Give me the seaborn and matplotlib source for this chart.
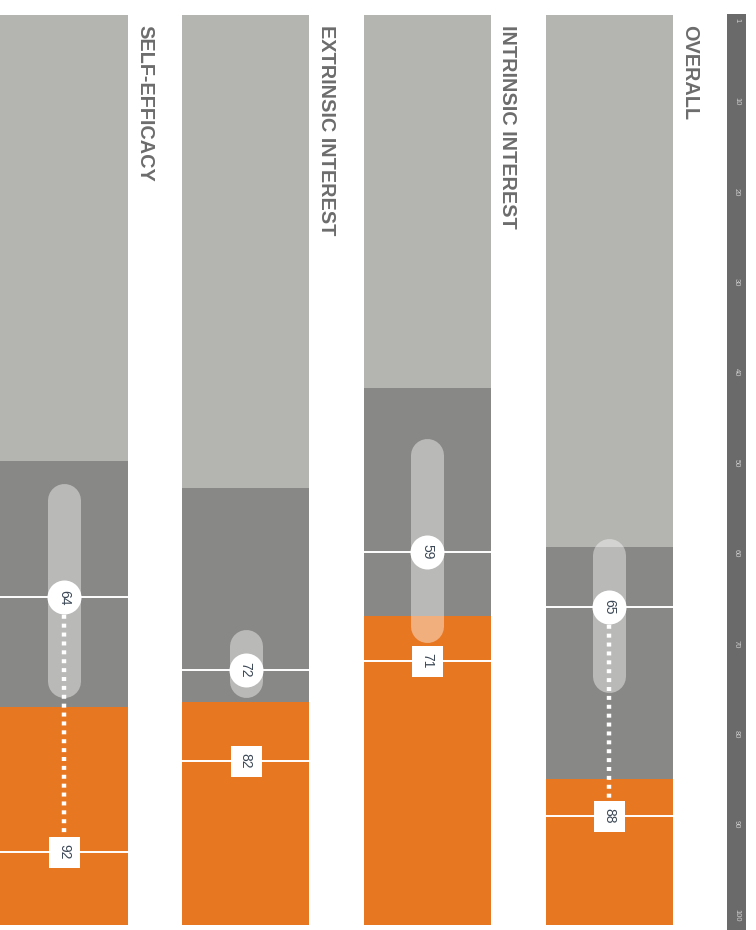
import matplotlib
matplotlib.use("Agg")
import matplotlib.pyplot as plt
import seaborn as sns
import pandas as pd

# Scores per scale (0 at top, 100 at bottom)
categories = ["SELF-EFFICACY", "EXTRINSIC INTEREST", "INTRINSIC INTEREST", "OVERALL"]
low_band_end = [49, 52, 41, 58.5]      # light grey band: 0 .. value
mid_band_end = [76, 75.5, 66, 84]      # dark grey band: low .. value, orange beyond
range_low = [51.5, 67.5, 46.5, 57.5]
range_high = [75, 75, 69, 74.5]
circle_scores = [64, 72, 59, 65]
square_scores = [92, 82, 71, 88]
show_link = [True, False, False, True]
scale_ticks = [1, 10, 20, 30, 40, 50, 60, 70, 80, 90, 100]

LIGHT = "#b4b4b1"
DARK = "#888886"
ORANGE = "#e87722"
TITLE = "#6c6c6c"
NUM = "#3b4756"

sns.set_theme(style="white")
plt.rcParams["font.family"] = ["Liberation Sans", "DejaVu Sans"]

W, H = 756, 930
fig = plt.figure(figsize=(W / 100, H / 100), dpi=100)
ax = fig.add_axes([0, 0, 1, 1])

df = pd.DataFrame({"cat": categories, "full": [100] * 4,
                   "mid": mid_band_end, "low": low_band_end})
bw = 0.70
for col, c in [("full", ORANGE), ("mid", DARK), ("low", LIGHT)]:
    sns.barplot(data=df, x="cat", y=col, order=categories, color=c,
                saturation=1, width=bw, ax=ax, linewidth=0)

# pixel -> data helpers
x0_px, step_px = 64.0, 181.7
y0_px, unit_px = 15.0, 9.1
ax.set_xlim(-x0_px / step_px, (W - x0_px) / step_px)
ax.set_ylim((H - y0_px) / unit_px, -y0_px / unit_px)
ax.axis("off")

pt_per_px = 72 / 100
pill_w_px = 33
cap = (pill_w_px / 2) / unit_px
half = bw / 2

for i, cat in enumerate(categories):
    # range pill
    ax.plot([i, i], [range_low[i] + cap, range_high[i] - cap], color="white",
            alpha=0.42, lw=pill_w_px * pt_per_px, solid_capstyle="round", zorder=3)
    # reference lines across the column
    for v in (circle_scores[i], square_scores[i]):
        ax.plot([i - half, i + half], [v, v], color="white", lw=1.4, zorder=4)
    if show_link[i]:
        ax.plot([i, i], [circle_scores[i], square_scores[i]], color="white",
                lw=3.2, linestyle=(0, (0.9, 1.1)), zorder=4)
    ax.scatter([i], [circle_scores[i]], s=(34 * pt_per_px) ** 2, marker="o",
               color="white", zorder=5, linewidths=0)
    ax.scatter([i], [square_scores[i]], s=(31 * pt_per_px) ** 2, marker="s",
               color="white", zorder=5, linewidths=0)
    ax.text(i, circle_scores[i], str(circle_scores[i]), rotation=-90,
            ha="center", va="center", fontsize=10, color=NUM, zorder=6)
    ax.text(i, square_scores[i], str(square_scores[i]), rotation=-90,
            ha="center", va="center", fontsize=10, color=NUM, zorder=6)
    # column title
    ax.text(i + half + 17 / step_px, 1.1, cat, rotation=-90, ha="center",
            va="top", fontsize=14.3, fontweight="bold", color=TITLE)

# percentile scale bar on the right (its labels sit slightly inset from the ends)
sx0 = (727 - x0_px) / step_px
sx1 = (746 - x0_px) / step_px
ax.add_patch(plt.Rectangle((sx0, -0.1), sx1 - sx0, 102, color="#6a6a6a",
                           lw=0, zorder=2))
for t in scale_ticks:
    y_lab = (20 + (t - 1) * 9.04 - y0_px) / unit_px
    ax.text((sx0 + sx1) / 2, y_lab, str(t), rotation=-90,
            ha="center", va="center", fontsize=5.5, color="#cfcfcf", zorder=3)

fig.savefig("out.png", dpi=100, facecolor="white")
